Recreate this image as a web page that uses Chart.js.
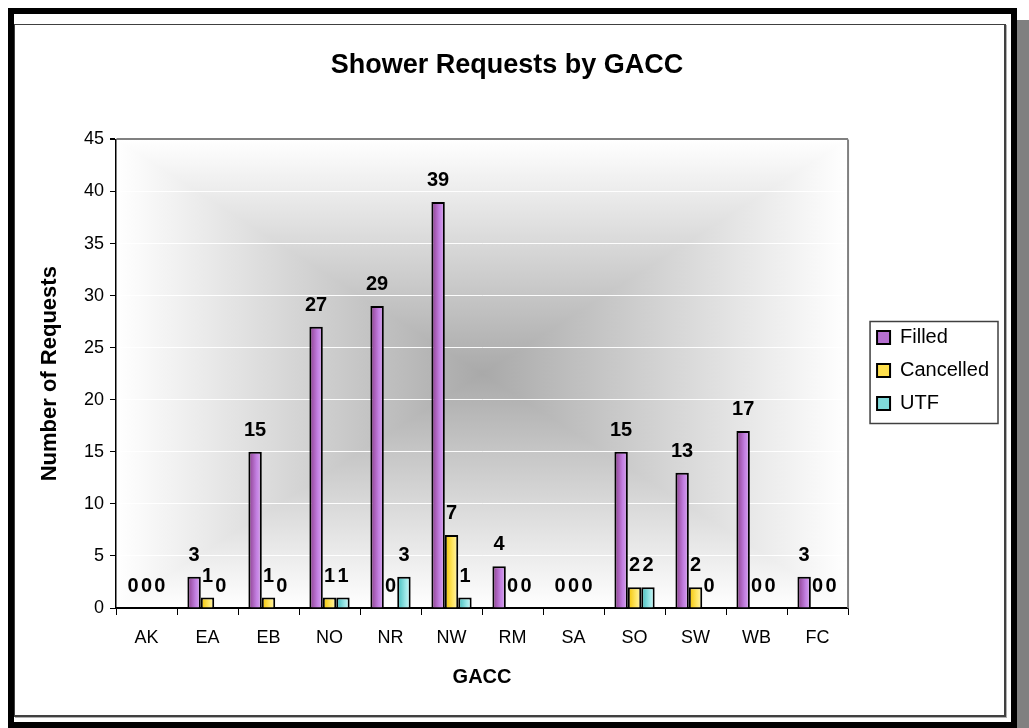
<!DOCTYPE html>
<html>
<head>
<meta charset="utf-8">
<title>Shower Requests by GACC</title>
<script src="https://cdn.jsdelivr.net/npm/chart.js@4.4.1/dist/chart.umd.min.js"></script>
<style>
  html, body { margin: 0; padding: 0; background: #fff; }
  #page { position: relative; width: 1029px; height: 728px; overflow: hidden; }
  .frame { position: absolute; left: 8px; top: 8px; width: 1009px; height: 720px; border: 6px solid #000; box-sizing: border-box; }
  .shadow { position: absolute; left: 1017px; top: 20px; width: 12px; height: 708px; background: #808080; }
  .panel { position: absolute; left: 14px; top: 24px; width: 992px; height: 693px; box-sizing: border-box; border: 1px solid #404040; border-right-width: 2px; border-bottom-width: 2px; box-shadow: 1px 1px 0 #b0b0b0; }
  #chartBox { position: absolute; left: 15px; top: 25px; width: 990px; height: 691px; }
</style>
</head>
<body>
<div id="page">
  <div class="frame"></div>
  <div class="shadow"></div>
  <div class="panel"></div>
  <div id="chartBox"><canvas id="showerChart"></canvas></div>
</div>
<script>
// --- data ---
const categories = ['AK', 'EA', 'EB', 'NO', 'NR', 'NW', 'RM', 'SA', 'SO', 'SW', 'WB', 'FC'];
const filled    = [0, 3, 15, 27, 29, 39, 4, 0, 15, 13, 17, 3];
const cancelled = [0, 1, 1, 1, 0, 7, 0, 0, 2, 2, 0, 0];
const utf       = [0, 0, 0, 1, 3, 1, 0, 0, 2, 0, 0, 0];
const seriesNames = ['Filled', 'Cancelled', 'UTF'];
const yMax = 45;
const yStep = 5;

// colours (left edge -> middle -> right edge of each bar)
const shades = [
    ['#8a3c8a', '#c27ee0', '#d9a8f3'],
    ['#f2c200', '#ffe766', '#fff6b8'],
    ['#3fbcbc', '#98e6e6', '#d2fafa']
];
const swatch = ['#b56fd0', '#ffe04d', '#7fdada'];

Chart.defaults.font.family = '"Liberation Sans", Arial, sans-serif';
Chart.defaults.color = '#000';

/* ---------- background: rectangular "from centre" gradient ---------- */
const plotBackground = {
    id: 'plotBackground',
    beforeDraw(chart) {
        const { ctx, chartArea: a } = chart;
        const cx = (a.left + a.right) / 2, cy = (a.top + a.bottom) / 2;
        const hg = ctx.createLinearGradient(a.left, 0, a.right, 0);
        const vg = ctx.createLinearGradient(0, a.top, 0, a.bottom);
        [hg, vg].forEach(g => {
            g.addColorStop(0, '#ffffff');
            g.addColorStop(0.5, '#a9a9a9');
            g.addColorStop(1, '#ffffff');
        });
        ctx.save();
        // left / right parts first over the whole area, then top / bottom wedges
        ctx.fillStyle = hg;
        ctx.fillRect(a.left, a.top, a.right - a.left, a.bottom - a.top);
        const wedge = (x1, y1, x2, y2) => {
            ctx.beginPath();
            ctx.moveTo(x1, y1);
            ctx.lineTo(cx, cy);
            ctx.lineTo(x2, y2);
            ctx.closePath();
            ctx.fillStyle = vg;
            ctx.fill();
        };
        wedge(a.left, a.top, a.right, a.top);
        wedge(a.left, a.bottom, a.right, a.bottom);
        ctx.restore();
    },
    beforeDatasetsDraw(chart) {
        // right-hand frame of the plot
        const { ctx, chartArea: a } = chart;
        ctx.save();
        ctx.strokeStyle = '#808080';
        ctx.lineWidth = 2;
        ctx.beginPath();
        ctx.moveTo(a.right, a.top);
        ctx.lineTo(a.right, a.bottom);
        ctx.stroke();
        ctx.restore();
    }
};

/* ---------- shaded bars ---------- */
const barShading = {
    id: 'barShading',
    beforeDatasetsDraw(chart) {
        const ctx = chart.ctx;
        chart.data.datasets.forEach((ds, di) => {
            const stops = shades[di];
            chart.getDatasetMeta(di).data.forEach(bar => {
                const half = bar.width / 2;
                const g = ctx.createLinearGradient(bar.x - half, 0, bar.x + half, 0);
                g.addColorStop(0, stops[0]);
                g.addColorStop(0.6, stops[1]);
                g.addColorStop(1, stops[2]);
                bar.options = Object.assign({}, bar.options, { backgroundColor: g });
            });
        });
    }
};

/* ---------- value labels ---------- */
const valueLabels = {
    id: 'valueLabels',
    afterDatasetsDraw(chart) {
        const ctx = chart.ctx;
        ctx.save();
        ctx.font = 'bold 20px "Liberation Sans", Arial, sans-serif';
        ctx.textAlign = 'center';
        ctx.textBaseline = 'alphabetic';
        ctx.fillStyle = '#000';
        chart.data.datasets.forEach((ds, di) => {
            chart.getDatasetMeta(di).data.forEach((bar, i) => {
                ctx.fillText(String(ds.data[i]), bar.x, bar.y - 16);
            });
        });
        ctx.restore();
    }
};

/* ---------- box round the legend ---------- */
const legendFrame = {
    id: 'legendFrame',
    afterDraw(chart) {
        const boxes = chart.legend && chart.legend.legendHitBoxes;
        if (!boxes || !boxes.length) return;
        const l = Math.min(...boxes.map(b => b.left)) - 7;
        const r = Math.max(...boxes.map(b => b.left + b.width)) + 9;
        const t = boxes[0].top - 6;
        const b = boxes[boxes.length - 1].top + boxes[boxes.length - 1].height + 10;
        const ctx = chart.ctx;
        ctx.save();
        ctx.strokeStyle = '#404040';
        ctx.lineWidth = 1.5;
        ctx.strokeRect(l, t, r - l, b - t);
        ctx.restore();
    }
};

new Chart(document.getElementById('showerChart'), {
    type: 'bar',
    data: {
        labels: categories,
        datasets: [filled, cancelled, utf].map((values, i) => ({
            label: seriesNames[i],
            data: values,
            backgroundColor: swatch[i],
            borderColor: '#000',
            borderWidth: 2,
            categoryPercentage: 0.66,
            barPercentage: 1
        }))
    },
    options: {
        responsive: true,
        maintainAspectRatio: false,
        animation: false,
        layout: { padding: { left: 0, right: 6, top: 0, bottom: 0 } },
        plugins: {
            title: {
                display: true,
                text: 'Shower Requests by GACC',
                font: { size: 27, weight: 'bold' },
                color: '#000',
                padding: { top: 24, bottom: 58 }
            },
            legend: {
                position: 'right',
                labels: { boxWidth: 13, boxHeight: 13, padding: 13, font: { size: 20 }, color: '#000' }
            },
            tooltip: { enabled: false }
        },
        scales: {
            x: {
                grid: { display: true, drawOnChartArea: false, drawTicks: true, tickLength: 7, tickColor: '#000', offset: true },
                border: { color: '#000', width: 1.5 },
                ticks: { font: { size: 18 }, color: '#000', padding: 12, maxRotation: 0 },
                title: { display: true, text: 'GACC', font: { size: 20, weight: 'bold' }, color: '#000', padding: { top: 0, bottom: 27 } },
                afterFit: s => { s.height = 108; }
            },
            y: {
                min: 0,
                max: yMax,
                ticks: { stepSize: yStep, font: { size: 18 }, color: '#000', padding: 6 },
                grid: {
                    color: c => c.tick.value === yMax ? '#808080' : (c.tick.value === 0 ? '#000' : 'rgba(255,255,255,0.95)'),
                    lineWidth: c => c.tick.value === yMax ? 2 : 1,
                    tickColor: '#000',
                    tickLength: 6
                },
                border: { color: '#000', width: 1.5 },
                title: { display: true, text: 'Number of Requests', font: { size: 22, weight: 'bold' }, color: '#000', padding: { top: 22, bottom: 0 } },
                afterFit: s => { s.width = 101; }
            },
            gap: {
                type: 'linear',
                position: 'right',
                display: true,
                grid: { display: false },
                border: { display: false },
                ticks: { display: false },
                afterFit: s => { s.width = 16; }
            }
        }
    },
    plugins: [plotBackground, barShading, valueLabels, legendFrame]
});
</script>
</body>
</html>
